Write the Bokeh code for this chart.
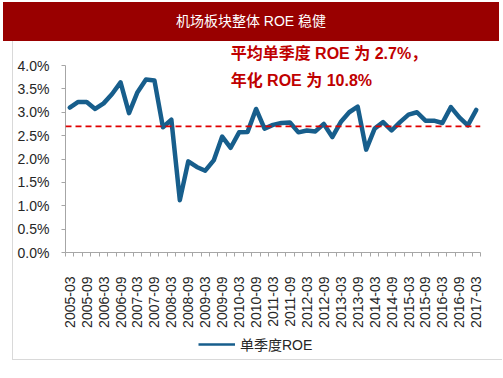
from bokeh.plotting import figure
from bokeh.models import (FixedTicker, PrintfTickFormatter, Span, Label, Legend,
                          LegendItem, ColumnDataSource, Range1d, Div)
from bokeh.layouts import column
from bokeh.embed import file_html
from bokeh.resources import INLINE

# ---------------- data ----------------
title_text = "机场板块整体 ROE 稳健"
series_name = "单季度ROE"
quarters = [f"{y}-{m:02d}" for y in range(2005, 2018) for m in (3, 6, 9, 12)][:49]
roe = [3.10, 3.22, 3.22, 3.07, 3.19, 3.39, 3.64, 2.98, 3.43, 3.70,
       3.68, 2.68, 2.84, 1.12, 1.95, 1.83, 1.75, 1.97, 2.48, 2.24,
       2.57, 2.58, 3.07, 2.65, 2.73, 2.77, 2.78, 2.57, 2.61, 2.59,
       2.75, 2.47, 2.79, 3.00, 3.12, 2.20, 2.65, 2.79, 2.61, 2.79,
       2.95, 3.00, 2.82, 2.82, 2.77, 3.11, 2.89, 2.72, 3.05]
avg_roe = 2.7
note_lines = ["平均单季度 ROE 为 2.7%，", "年化 ROE 为 10.8%"]
y_ticks = [0, 0.5, 1.0, 1.5, 2.0, 2.5, 3.0, 3.5, 4.0]

LATIN = "Liberation Sans"
CJK = "Liberation Sans, Noto Sans CJK SC"
LINE_COLOR = "#175E8C"
BORDER = "1px solid #d9d9d9"

# ---------------- title bar ----------------
title = Div(text=title_text, width=496, height=39, margin=(2, 4, 0, 3),
            styles={"background-color": "#990000", "color": "white",
                    "text-align": "center", "line-height": "39px",
                    "font-family": "'Liberation Sans', 'Noto Sans CJK SC'",
                    "font-size": "14px", "width": "496px"})

# ---------------- main chart ----------------
idx = list(range(len(quarters)))
src = ColumnDataSource(dict(x=idx, y=roe))

y_top = 4.0 + 24 / 46.75   # room above 4.0% for the note

p = figure(width=490, height=296, output_backend="svg", toolbar_location=None,
           x_range=Range1d(-0.5, len(quarters) - 0.5), y_range=Range1d(0, y_top),
           min_border_left=52, min_border_right=23, min_border_top=0, min_border_bottom=85,
           background_fill_color="white", border_fill_color="white",
           outline_line_color=None, margin=(0, 0, 0, 12),
           styles={"border-left": BORDER})
p.grid.visible = False

r = p.line("x", "y", source=src, line_color=LINE_COLOR, line_width=4.5,
           line_join="round", line_cap="round")

p.add_layout(Span(location=avg_roe, dimension="width", line_color="#E00000",
                  line_width=1.8, line_dash="6 4"))

# x axis
xa = p.xaxis[0]
xa.ticker = FixedTicker(ticks=idx[::2], minor_ticks=[i - 0.5 for i in range(len(quarters) + 1)])
xa.major_label_overrides = {i: quarters[i] for i in idx[::2]}
xa.major_label_orientation = 1.5707963
xa.major_tick_out = 0
xa.major_tick_in = 0
xa.minor_tick_out = 4
xa.minor_tick_in = 0
xa.minor_tick_line_color = "#a6a6a6"
xa.axis_line_color = "#a6a6a6"
xa.major_label_text_font = LATIN
xa.major_label_text_font_size = "14px"
xa.major_label_text_color = "#262626"
xa.major_label_standoff = 20

# y axis
ya = p.yaxis[0]
ya.ticker = FixedTicker(ticks=y_ticks)
ya.bounds = (0, 4.0)
ya.formatter = PrintfTickFormatter(format="%.1f%%")
ya.major_tick_out = 4
ya.major_tick_in = 0
ya.minor_tick_out = 0
ya.minor_tick_in = 0
ya.major_tick_line_color = "#a6a6a6"
ya.axis_line_color = "#a6a6a6"
ya.major_label_text_font = LATIN
ya.major_label_text_font_size = "14px"
ya.major_label_text_color = "#262626"
ya.major_label_standoff = 12

# annotation
for txt, yv in zip(note_lines, [4.26, 3.68]):
    p.add_layout(Label(x=19.0, y=yv, text=txt, text_align="left", text_baseline="middle",
                       text_color="#C00000", text_font=CJK, text_font_size="16px",
                       text_font_style="bold"))

# ---------------- legend strip ----------------
# (its frame is aligned with the main chart's frame by the column layout)
lf = figure(width=490, height=23, output_backend="svg", toolbar_location=None,
            x_axis_type=None, y_axis_type=None,
            x_range=Range1d(-0.5, len(quarters) - 0.5), y_range=Range1d(-100, -90),
            min_border_left=0, min_border_right=0, min_border_top=0, min_border_bottom=0,
            background_fill_color="white", border_fill_color="white",
            outline_line_color=None, margin=(0, 0, 0, 12),
            styles={"border-left": BORDER, "border-bottom": BORDER})
lf.grid.visible = False
# same series, drawn outside this strip's visible range: only its legend glyph shows
lr = lf.line("x", "y", source=src, line_color=LINE_COLOR, line_width=2.5)
legend = Legend(items=[LegendItem(label=series_name, renderers=[lr])],
                location=(133, 6), orientation="horizontal",
                border_line_color=None, background_fill_alpha=0,
                padding=0, margin=0, glyph_width=37, glyph_height=16, label_height=16,
                label_standoff=5,
                label_text_font=CJK, label_text_font_size="14px",
                label_text_color="#262626")
lf.add_layout(legend, "center")

layout = column(title, p, lf, spacing=0)
open("out.html", "w").write(file_html(layout, INLINE))
